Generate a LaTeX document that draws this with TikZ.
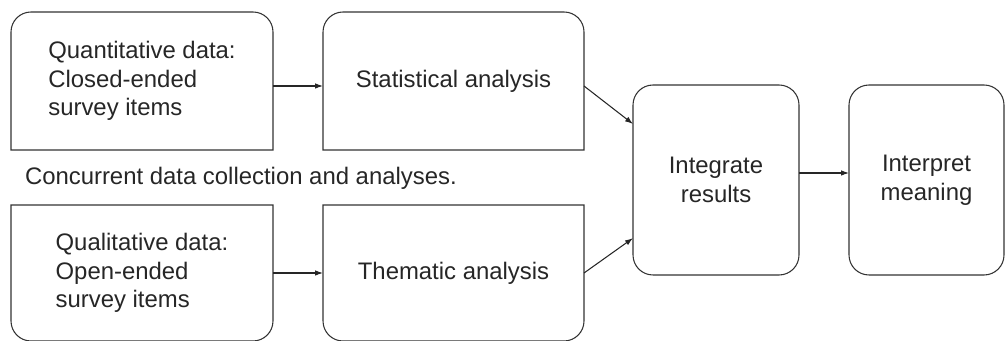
\documentclass[tikz,border=0pt]{standalone}
\usepackage{fontspec}
\setmainfont{Liberation Sans}
\usepackage{xcolor}
\usepackage{tikz}
\usetikzlibrary{arrows.meta}

\begin{document}
\begin{tikzpicture}[
  >={Latex[length=0.2cm,width=0.14cm]},
  boxline/.style={line width=0.75pt, draw=black!80},
  stage/.style={outer sep=0pt, inner sep=0pt, text=black!85,
    font=\fontsize{17}{20.5}\selectfont},
  flow/.style={line width=0.75pt, draw=black!85, ->},
]
\useasboundingbox (0,0) rectangle (25.125,8.525);

% Data boxes (left)
\node[stage, minimum width=6.55cm, minimum height=3.45cm, align=left] (quant) at (3.55,6.5)
  {Quantitative data:\\Closed-ended\\survey items};
\node[stage, minimum width=6.55cm, minimum height=3.4cm, align=left] (qual) at (3.55,1.7)
  {Qualitative data:\\Open-ended\\survey items};

% Analysis boxes (middle)
\node[stage, minimum width=6.525cm, minimum height=3.45cm] (stat) at (11.3375,6.5) {Statistical analysis};
\node[stage, minimum width=6.525cm, minimum height=3.4cm] (them) at (11.3375,1.7) {Thematic analysis};

% Top boxes: rounded top corners only
\foreach \b in {quant, stat} {
  \draw[boxline] (\b.south west) -- ([yshift=-0.5cm]\b.north west)
    arc[start angle=180, end angle=90, radius=0.5cm] -- ([xshift=-0.5cm]\b.north east)
    arc[start angle=90, end angle=0, radius=0.5cm] -- (\b.south east) -- cycle;
}
% Bottom boxes: rounded bottom corners only
\foreach \b in {qual, them} {
  \draw[boxline] (\b.north west) -- ([yshift=0.5cm]\b.south west)
    arc[start angle=180, end angle=270, radius=0.5cm] -- ([xshift=-0.5cm]\b.south east)
    arc[start angle=270, end angle=360, radius=0.5cm] -- (\b.north east) -- cycle;
}

% Integration and interpretation
\node[stage, boxline, rounded corners=0.5cm, minimum width=4.15cm, minimum height=4.75cm, align=center] (integ) at (17.9,4.025)
  {Integrate\\results};
\node[stage, boxline, rounded corners=0.5cm, minimum width=3.875cm, minimum height=4.75cm, align=center] (interp) at (23.1625,4.025)
  {Interpret\\meaning};

% Caption between rows
\node[stage, anchor=base west] (concur) at (0.625,3.9) {Concurrent data collection and analyses.};

% Arrows
\draw[flow] ([yshift=-0.125cm]quant.east) -- ([yshift=-0.125cm]stat.west);
\draw[flow] (qual.east) -- (them.west);
\draw[flow] ([yshift=-0.125cm]stat.east) -- (integ.146);
\draw[flow] (them.east) -- (integ.215);
\draw[flow] ([yshift=0.175cm]integ.east) -- ([yshift=0.175cm]interp.west);
\end{tikzpicture}
\end{document}
